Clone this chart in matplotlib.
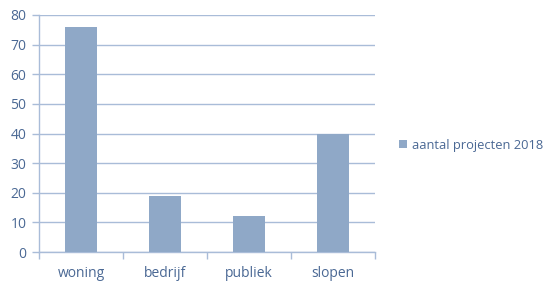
import matplotlib
matplotlib.use("Agg")
import matplotlib.pyplot as plt
from matplotlib.patches import Patch
import numpy as np

categories = ["woning", "bedrijf", "publiek", "slopen"]
values = [76, 19, 12, 40]
series_name = "aantal projecten 2018"
yticks = [0, 10, 20, 30, 40, 50, 60, 70, 80]

bar_color = "#8FA8C7"
grid_color = "#A9BCD8"
text_color = "#4A6894"

plt.rcParams["font.family"] = ["Open Sans", "DejaVu Sans"]

fig = plt.figure(figsize=(5.55, 2.82), dpi=100)
ax = fig.add_axes([39 / 555, 30 / 282, 336 / 555, 237 / 282])

x = np.arange(len(categories))
ax.bar(x, values, width=0.39, color=bar_color, zorder=3)

ax.set_xlim(-0.5, len(categories) - 0.5)
ax.set_ylim(0, 80)
ax.set_yticks(yticks)
ax.yaxis.grid(True, color=grid_color, linewidth=1)
ax.set_axisbelow(True)

# category labels centered, tick marks between categories
ax.set_xticks(x)
ax.set_xticklabels(categories)
ax.tick_params(axis="x", length=0, pad=10, labelsize=10, labelcolor=text_color)
ax.set_xticks(np.arange(-0.5, len(categories)), minor=True)
ax.tick_params(axis="x", which="minor", length=5, color=grid_color, width=1)
ax.tick_params(axis="y", length=5, color=grid_color, width=1, pad=4,
               labelsize=10, labelcolor=text_color)

for s in ["top", "right"]:
    ax.spines[s].set_visible(False)
for s in ["left", "bottom"]:
    ax.spines[s].set_color(grid_color)
    ax.spines[s].set_linewidth(1)

handle = Patch(facecolor=bar_color, edgecolor="none")
fig.legend([handle], [series_name], loc="center left",
           bbox_to_anchor=(387 / 555, 1 - 145 / 282), frameon=False,
           fontsize=9.3, labelcolor=text_color, handlelength=0.65,
           handleheight=0.65, handletextpad=0.4)

fig.savefig("out.png", dpi=100)
plt.close(fig)
